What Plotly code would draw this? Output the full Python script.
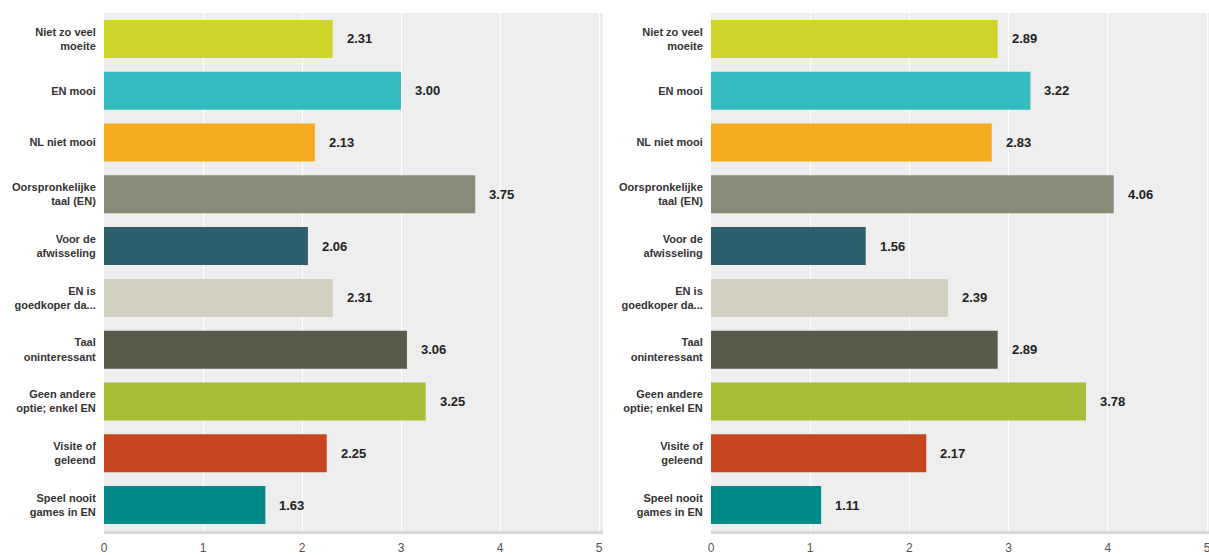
import plotly.graph_objects as go

# Reasons (top to bottom) and mean scores for the two groups
categories = [
    "Niet zo veel<br>moeite",
    "EN mooi",
    "NL niet mooi",
    "Oorspronkelijke<br>taal (EN)",
    "Voor de<br>afwisseling",
    "EN is<br>goedkoper da...",
    "Taal<br>oninteressant",
    "Geen andere<br>optie; enkel EN",
    "Visite of<br>geleend",
    "Speel nooit<br>games in EN",
]
scores_left = [2.31, 3.00, 2.13, 3.75, 2.06, 2.31, 3.06, 3.25, 2.25, 1.63]
scores_right = [2.89, 3.22, 2.83, 4.06, 1.56, 2.39, 2.89, 3.78, 2.17, 1.11]
bar_colors = [
    "#cfd42a", "#35bcc0", "#f5ab20", "#8a8a78", "#2e5f6c",
    "#d1d0c1", "#5a5a4b", "#a8be39", "#c8461f", "#008b8a",
]
tick_values = [0, 1, 2, 3, 4, 5]

W, H = 1209, 555
fig = go.Figure()

panels = [
    ("x", "y", scores_left, [104 / W, 603 / W], 5 * (603 - 104) / 495),
    ("x2", "y2", scores_right, [711 / W, 1.0], 5 * (1209 - 711) / 496),
]

layout = dict(
    width=W, height=H,
    margin=dict(l=0, r=0, t=0, b=0, autoexpand=False),
    paper_bgcolor="white",
    plot_bgcolor="#eeeeee",
    showlegend=False,
    bargap=0.266,
    font=dict(family="Arial, Liberation Sans, sans-serif"),
)

annotations = []
for i, (xa, ya, vals, dom, xmax) in enumerate(panels):
    fig.add_trace(go.Bar(
        x=vals, y=categories, orientation="h",
        marker=dict(color=bar_colors, line=dict(width=0)),
        xaxis=xa, yaxis=ya, hoverinfo="x+y",
    ))
    suffix = "" if i == 0 else "2"
    layout["xaxis" + suffix] = dict(
        domain=dom, range=[0, xmax], anchor=ya,
        tickvals=tick_values, ticktext=[str(t) for t in tick_values],
        showgrid=True, gridcolor="white", gridwidth=1,
        zeroline=False, showline=True, linecolor="#d8d8d8", linewidth=3,
        ticks="outside", ticklen=4, tickcolor="rgba(0,0,0,0)",
        tickfont=dict(size=12, color="#555555"),
        ticklabeloverflow="allow", automargin=False,
        fixedrange=True,
    )
    layout["yaxis" + suffix] = dict(
        domain=[(H - 531) / H, (H - 13) / H], anchor=xa,
        categoryorder="array", categoryarray=categories,
        autorange="reversed",
        showgrid=False, zeroline=False, showline=False,
        ticks="outside", ticklen=5, tickcolor="rgba(0,0,0,0)",
        tickfont=dict(size=11, color="#333333", weight="bold"),
        automargin=False,
        fixedrange=True,
    )
    for cat, v in zip(categories, vals):
        annotations.append(dict(
            x=v, y=cat, xref=xa, yref=ya,
            text=f"<b>{v:.2f}</b>", showarrow=False,
            xanchor="left", xshift=12,
            font=dict(size=13, color="#222222"),
        ))

layout["annotations"] = annotations
fig.update_layout(**layout)
fig.write_html("out.html")
